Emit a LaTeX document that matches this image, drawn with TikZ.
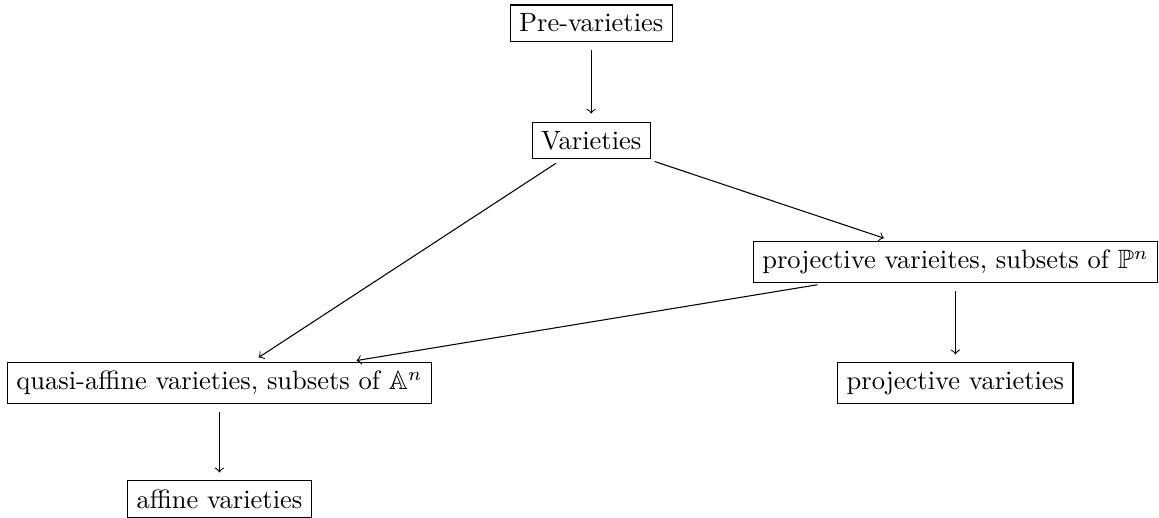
\documentclass[tikz,border=0pt]{standalone}
\usepackage{amssymb}
\usepackage{mathtools}

\begin{document}
\begin{tikzpicture}[box/.style={draw=black}, arr/.style={->, shorten <=3pt, shorten >=3pt}]
      \useasboundingbox (0,0) rectangle (15.37,-6.86);
      \node[box] (PV) at (7.84,-0.305) {Pre-varieties};
      \node[box] (V) at (7.84,-1.86) {Varieties};
      \node[box] (PS) at (12.67,-3.475) {projective varieites, subsets of $\mathbb{P}^n$};
      \node[box] (QA) at (2.91,-5.08) {quasi-affine varieties, subsets of $\mathbb{A}^n$};
      \node[box] (PJ) at (12.67,-5.08) {projective varieties};
      \node[box] (AF) at (2.91,-6.62) {affine varieties};
      \draw[arr] (PV) -- (V);
      \draw[arr] (V) -- (QA);
      \draw[arr] (V) -- (PS);
      \draw[arr] (PS) -- (QA);
      \draw[arr] (PS) -- (PJ);
      \draw[arr] (QA) -- (AF);
    \end{tikzpicture}
\end{document}
